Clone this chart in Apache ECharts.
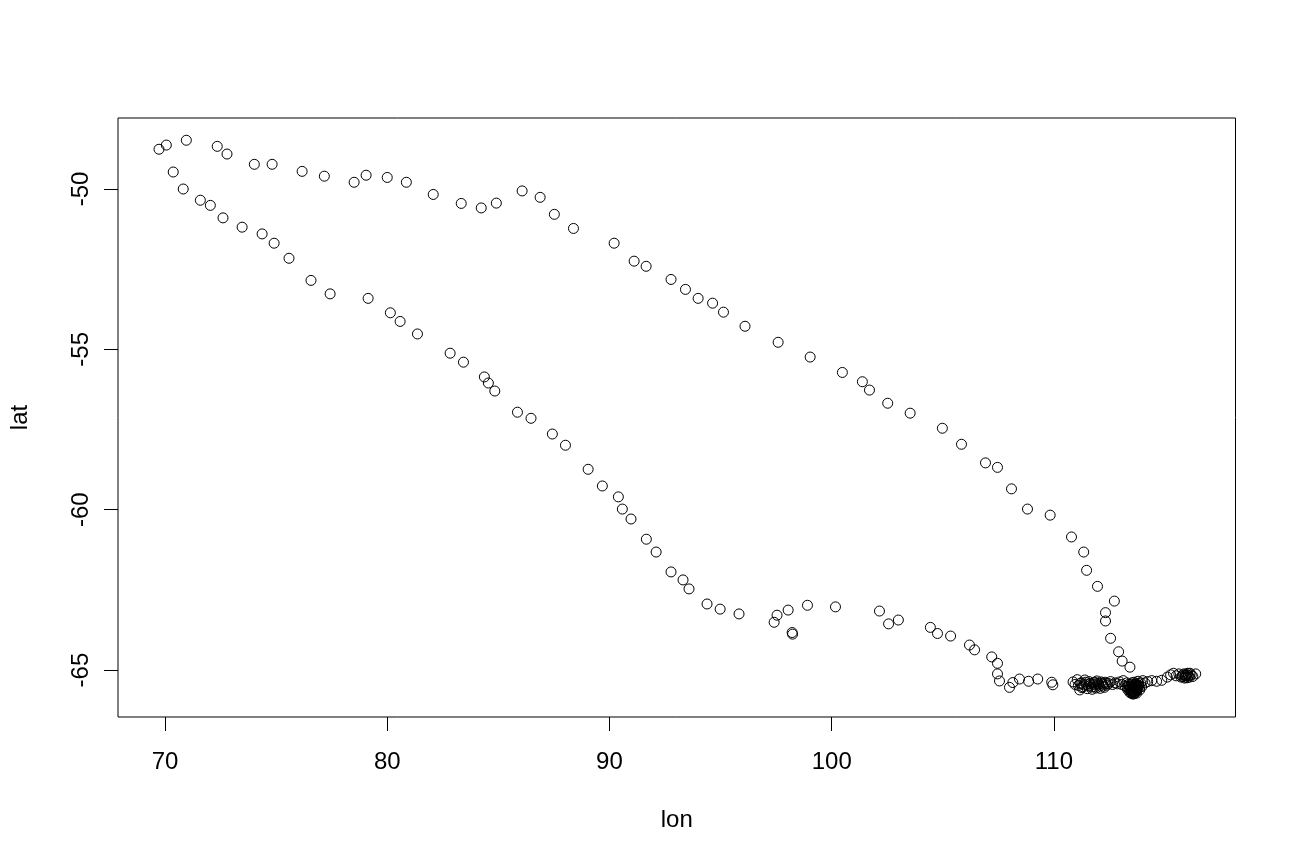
<!DOCTYPE html>
<html>
<head>
<meta charset="utf-8">
<script src="https://cdn.jsdelivr.net/npm/echarts@6/dist/echarts.min.js"></script>
<style>html,body{margin:0;padding:0;background:#fff;}#c{width:1296px;height:864px;}</style>
</head>
<body>
<div id="c"></div>
<script>
const xTicks = [70, 80, 90, 100, 110];
const yTicks = [-65, -60, -55, -50];

const upperLon = [69.73,70.06,70.96,72.35,72.79,74.02,74.82,76.17,77.17,78.51,79.05,80.00,80.86,82.07,83.33,84.23,84.91,86.07,86.88,87.52,88.38,90.21,91.11,91.65,92.77,93.42,93.99,94.64,95.13,96.10,97.59,99.03,100.48,101.38,101.70,102.52,103.53,104.98,105.84,106.92,107.46,108.09,108.81,109.83,110.79,111.34,111.47,111.96,112.72,112.32,112.32,112.55,112.91,113.07,113.42];
const upperLat = [-48.76,-48.63,-48.48,-48.67,-48.91,-49.23,-49.23,-49.45,-49.60,-49.79,-49.57,-49.64,-49.79,-50.17,-50.45,-50.59,-50.44,-50.06,-50.26,-50.79,-51.23,-51.69,-52.25,-52.41,-52.82,-53.13,-53.41,-53.56,-53.84,-54.28,-54.78,-55.24,-55.72,-56.01,-56.27,-56.68,-56.99,-57.46,-57.96,-58.54,-58.68,-59.35,-59.98,-60.17,-60.85,-61.32,-61.89,-62.39,-62.85,-63.21,-63.47,-64.01,-64.43,-64.72,-64.91];

const lowerLon = [70.37,70.82,71.59,72.04,72.61,73.47,74.37,74.91,75.58,76.57,77.43,79.14,80.14,80.58,81.36,82.83,83.43,84.37,84.55,84.84,85.86,86.47,87.43,88.02,89.04,89.68,90.40,90.58,90.97,91.66,92.10,92.77,93.31,93.58,94.39,94.98,95.83,97.41,97.54,98.04,98.22,98.24,98.91,100.17,102.15,102.56,103.00,104.44,104.76,105.35,106.20,106.43,107.20,107.46,107.46,107.55,108.00,108.15,108.45,108.86,109.27,109.90,109.95];
const lowerLat = [-49.47,-50.00,-50.35,-50.51,-50.90,-51.19,-51.40,-51.69,-52.16,-52.85,-53.27,-53.41,-53.86,-54.13,-54.52,-55.12,-55.40,-55.86,-56.05,-56.30,-56.96,-57.15,-57.64,-57.99,-58.74,-59.26,-59.60,-59.98,-60.29,-60.92,-61.32,-61.94,-62.19,-62.47,-62.94,-63.10,-63.25,-63.51,-63.29,-63.13,-63.83,-63.88,-62.98,-63.03,-63.16,-63.56,-63.44,-63.67,-63.86,-63.94,-64.22,-64.37,-64.59,-64.79,-65.12,-65.34,-65.54,-65.39,-65.28,-65.35,-65.28,-65.38,-65.46];

const clusterLon = [110.86,110.95,111.05,111.16,111.22,111.30,111.39,111.45,111.50,111.58,111.65,111.72,111.80,111.86,111.93,112.00,112.08,112.15,112.22,112.30,112.38,112.45,112.55,112.64,112.75,112.85,112.95,113.05,113.12,113.20,113.28,113.33,113.38,113.42,113.45,113.50,113.52,113.55,113.58,113.60,113.62,113.65,113.68,113.70,113.72,113.75,113.78,113.82,113.86,113.90,113.95,114.00,114.10,114.22,114.40,114.62,114.85,115.10,115.25,115.38,115.50,115.62,115.72,115.80,115.88,115.95,116.02,116.10,116.18,116.25,116.38];
const clusterLat = [-65.37,-65.45,-65.30,-65.62,-65.40,-65.52,-65.31,-65.44,-65.58,-65.36,-65.47,-65.60,-65.40,-65.52,-65.34,-65.46,-65.57,-65.41,-65.50,-65.38,-65.47,-65.42,-65.36,-65.45,-65.40,-65.43,-65.37,-65.45,-65.33,-65.50,-65.40,-65.62,-65.50,-65.70,-65.58,-65.45,-65.66,-65.75,-65.55,-65.38,-65.68,-65.50,-65.60,-65.42,-65.72,-65.55,-65.35,-65.48,-65.62,-65.40,-65.52,-65.33,-65.40,-65.36,-65.33,-65.35,-65.32,-65.22,-65.15,-65.10,-65.18,-65.12,-65.22,-65.15,-65.25,-65.18,-65.10,-65.22,-65.15,-65.20,-65.12];

const blobLon = [111.10,111.18,111.26,111.34,111.42,111.55,111.62,111.70,111.77,111.84,111.90,111.98,112.05,112.12,112.20,112.27,112.35,113.30,113.35,113.40,113.44,113.47,113.50,113.53,113.56,113.58,113.61,113.63,113.66,113.68,113.71,113.73,113.76,113.79,113.81,113.84,113.48,113.54,113.60,113.66,113.72,113.58,113.64,113.52,113.70,113.62,115.78,115.85,115.92,115.98,116.05,116.12,115.90,116.00];
const blobLat = [-65.48,-65.42,-65.55,-65.46,-65.38,-65.50,-65.42,-65.53,-65.45,-65.38,-65.56,-65.42,-65.50,-65.37,-65.44,-65.54,-65.42,-65.55,-65.45,-65.60,-65.52,-65.65,-65.40,-65.58,-65.68,-65.48,-65.62,-65.72,-65.45,-65.55,-65.65,-65.48,-65.60,-65.50,-65.42,-65.55,-65.72,-65.70,-65.74,-65.70,-65.62,-65.64,-65.58,-65.52,-65.50,-65.45,-65.20,-65.12,-65.22,-65.14,-65.18,-65.10,-65.16,-65.24];

const lon = upperLon.concat(lowerLon, clusterLon, blobLon);
const lat = upperLat.concat(lowerLat, clusterLat, blobLat);
const pts = lon.map((v, i) => [v, lat[i]]);

const chart = echarts.init(document.getElementById('c'), null, {renderer: 'canvas'});
const font = 'Liberation Sans, Arial, sans-serif';
chart.setOption({
  animation: false,
  backgroundColor: '#fff',
  grid: {left: 118, right: 60.5, top: 118, bottom: 147, show: true, borderColor: '#000', borderWidth: 1, backgroundColor: 'transparent'},
  xAxis: {
    type: 'value', min: 67.885, max: 118.17,
    name: 'lon', nameLocation: 'middle', nameGap: 91,
    nameTextStyle: {fontSize: 24, color: '#000', fontFamily: font},
    axisLine: {show: false},
    splitLine: {show: false},
    axisTick: {show: true, inside: false, length: 14, customValues: xTicks, lineStyle: {color: '#000', width: 1}},
    axisLabel: {customValues: xTicks, fontSize: 24, color: '#000', fontFamily: font, margin: 33}
  },
  yAxis: {
    type: 'value', min: -66.464, max: -47.786,
    name: 'lat', nameLocation: 'middle', nameGap: 86,
    nameTextStyle: {fontSize: 24, color: '#000', fontFamily: font},
    axisLine: {show: false},
    splitLine: {show: false},
    axisTick: {show: true, inside: false, length: 14, customValues: yTicks, lineStyle: {color: '#000', width: 1}},
    axisLabel: {customValues: yTicks, fontSize: 24, color: '#000', fontFamily: font, rotate: 90, margin: 25}
  },
  series: [{
    type: 'scatter',
    data: pts,
    symbol: 'circle',
    symbolSize: 10,
    silent: true,
    itemStyle: {color: 'rgba(0,0,0,0)', borderColor: '#000', borderWidth: 1, opacity: 1}
  }]
});
</script>
</body>
</html>
